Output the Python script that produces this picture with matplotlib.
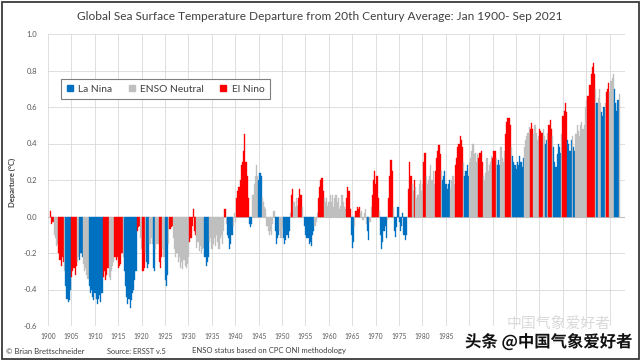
import matplotlib
matplotlib.use("Agg")
import matplotlib.pyplot as plt
import matplotlib.patheffects as pe
from matplotlib.patches import Rectangle, Patch
import numpy as np

# ---------------- data (quarterly global SST departure, deg C) ----------------
first_year = 1900
title = "Global Sea Surface Temperature Departure from 20th Century Average: Jan 1900- Sep 2021"

sst_1900s = [0.03, -0.04, -0.03, -0.10,  -0.12, -0.16, -0.15, -0.20,  -0.24, -0.27, -0.22, -0.25,
             -0.30, -0.38, -0.45, -0.47,  -0.46, -0.40, -0.33, -0.30,  -0.28, -0.32, -0.27, -0.25,
             -0.22, -0.24, -0.20, -0.22,  -0.26, -0.30, -0.28, -0.32,  -0.34, -0.38, -0.42, -0.40,
             -0.44, -0.46, -0.42, -0.45]
sst_1910s = [-0.48, -0.45, -0.43, -0.47,  -0.42, -0.33, -0.30, -0.35,  -0.32, -0.28, -0.33, -0.35,
             -0.30, -0.27, -0.25, -0.22,  -0.24, -0.22, -0.28, -0.27,  -0.26, -0.20, -0.22, -0.30,
             -0.38, -0.44, -0.48, -0.45,  -0.50, -0.46, -0.42, -0.40,  -0.35, -0.30, -0.08, -0.06,
             -0.05, -0.12, -0.18, -0.30]
sst_1920s = [-0.28, -0.20, -0.25, -0.28,  -0.26, -0.15, -0.12, -0.15,  -0.28, -0.30, -0.18, -0.15,
             -0.15, -0.25, -0.28, -0.22,  -0.18, -0.22, -0.35, -0.38,  -0.32, -0.15, -0.07, -0.06,
             -0.05, -0.12, -0.18, -0.22,  -0.20, -0.25, -0.22, -0.28,  -0.25, -0.29, -0.24, -0.27,
             -0.28, -0.26, -0.22, -0.14]
sst_1930s = [-0.12, -0.05, 0.04, -0.08,  -0.10, -0.17, -0.14, -0.19,  -0.16, -0.20, -0.18, -0.17,
             -0.22, -0.27, -0.25, -0.22,  -0.14, -0.12, -0.18, -0.15,  -0.12, -0.16, -0.10, -0.14,
             -0.18, -0.12, -0.10, -0.15,  -0.08, 0.04, -0.04, -0.10,  -0.12, -0.18, -0.15, -0.10,
             -0.05, 0.02, -0.03, 0.10]
sst_1940s = [0.14, 0.16, 0.20, 0.28,  0.30, 0.36, 0.45, 0.30,  0.22, 0.10, -0.04, -0.06,
             -0.04, 0.12, 0.18, 0.22,  0.28, 0.22, 0.20, 0.24,  0.22, 0.10, 0.08, 0.05,
             0.04, -0.05, -0.08, -0.10,  -0.08, -0.10, -0.04, 0.03,  -0.08, -0.15, -0.12, -0.10,
             -0.08, -0.12, -0.06, -0.12]
sst_1950s = [-0.15, -0.13, -0.10, -0.12,  -0.08, 0.02, 0.12, 0.15,  0.08, 0.05, 0.10, 0.06,
             0.10, 0.15, 0.12, 0.05,  0.00, -0.05, -0.10, -0.12,  -0.12, -0.15, -0.14, -0.16,
             -0.10, -0.08, -0.05, -0.03,  0.02, 0.10, 0.16, 0.20,  0.21, 0.14, 0.10, 0.08,
             0.10, 0.06, 0.08, 0.12]
sst_1960s = [0.08, 0.12, 0.05, 0.10,  0.12, 0.08, 0.10, 0.04,  0.06, 0.12, 0.08, 0.05,
             0.04, 0.10, 0.16, 0.14,  0.04, -0.10, -0.17, -0.14,  -0.05, 0.03, 0.05, 0.04,
             0.05, 0.02, 0.03, -0.02,  0.02, 0.04, -0.04, -0.08,  -0.13, -0.03, 0.05, 0.12,
             0.20, 0.25, 0.18, 0.22]
sst_1970s = [0.10, 0.03, -0.10, -0.18,  -0.14, -0.08, -0.05, -0.12,  -0.02, 0.10, 0.22, 0.31,
             0.25, 0.05, -0.08, -0.11,  -0.06, 0.05, -0.03, -0.08,  -0.05, 0.02, -0.10, -0.13,
             -0.10, 0.00, 0.15, 0.30,  0.22, 0.18, 0.14, 0.20,  0.16, 0.10, 0.12, 0.18,
             0.20, 0.14, 0.18, 0.30]
sst_1980s = [0.35, 0.22, 0.18, 0.20,  0.22, 0.28, 0.20, 0.25,  0.18, 0.25, 0.32, 0.36,
             0.39, 0.34, 0.25, 0.20,  0.22, 0.25, 0.18, 0.15,  0.18, 0.20, 0.15, 0.20,
             0.22, 0.18, 0.28, 0.32,  0.38, 0.40, 0.44, 0.42,  0.38, 0.30, 0.22, 0.25,
             0.28, 0.22, 0.30, 0.32]
sst_1990s = [0.36, 0.40, 0.34, 0.35,  0.30, 0.34, 0.32, 0.35,  0.36, 0.30, 0.22, 0.20,
             0.24, 0.32, 0.25, 0.28,  0.30, 0.33, 0.32, 0.36,  0.36, 0.32, 0.28, 0.31,
             0.28, 0.38, 0.32, 0.30,  0.36, 0.45, 0.52, 0.54,  0.54, 0.50, 0.38, 0.33,
             0.30, 0.28, 0.26, 0.30]
sst_2000s = [0.28, 0.33, 0.30, 0.27,  0.32, 0.38, 0.42, 0.44,  0.46, 0.49, 0.48, 0.51,
             0.48, 0.45, 0.50, 0.46,  0.42, 0.44, 0.48, 0.47,  0.46, 0.48, 0.44, 0.40,
             0.42, 0.46, 0.50, 0.53,  0.48, 0.44, 0.38, 0.30,  0.27, 0.34, 0.40, 0.38,
             0.35, 0.45, 0.55, 0.58]
sst_2010s = [0.62, 0.57, 0.42, 0.40,  0.36, 0.42, 0.44, 0.38,  0.36, 0.45, 0.50, 0.47,
             0.44, 0.50, 0.52, 0.48,  0.50, 0.60, 0.64, 0.66,  0.66, 0.72, 0.78, 0.82,
             0.84, 0.78, 0.70, 0.62,  0.65, 0.70, 0.62, 0.57,  0.55, 0.60, 0.62, 0.68,
             0.70, 0.73, 0.68, 0.74]
sst_2020s = [0.76, 0.78, 0.70, 0.62,  0.58, 0.64, 0.67]

# ENSO state per quarter: L = La Nina, N = neutral, E = El Nino
enso_1900s = "EEEN NNNE EEEE NLLL LLEE EEEN NLLL NNNN NLLL LLLL"
enso_1910s = "LLLL LEEE EENN NNNE EEEE EENL LLLL LLLL LLEE ENNE"
enso_1920s = "ENLL LNNN LLNN NEEE NNLL LNEE ENNN NNNN NNNN NNNE"
enso_1930s = "EEEE ENNN NNNN LLLL NNNN NNNN NNNN NENL LLLL NNNE"
enso_1940s = "EEEE EEEE EELL LNNN NNLL LNNN NNNN NNNN LLLL NNNL"
enso_1950s = "LLLL LNEE NNNN EEEN NLLL LLLL LLNN NEEE EENN NNNN"
enso_1960s = "NNNN NNNN NNNN NEEE ELLL NEEE ENNN NNNL LNNE EEEE"
enso_1970s = "ENLL LLLL NEEE ENLL LLLL LLLL LNEE ENNE NNNN NNNE"
enso_1980s = "ENNN NNNN NEEE EENL LLLL LLNN NNEE EEEE ENLL LLNN"
enso_1990s = "NNNN NNEE EENN NNNN NNEE ENLL LNNN NEEE EENL LLLL"
enso_2000s = "LLLL LNNN NNEE ENNN NNEE ENNL LNEE ENLL LLLL LNEE"
enso_2010s = "EELL LLNL LNNN NNNN NNNE EEEE EENL NNNL LLNE EENN"
enso_2020s = "NNLL LLN"

legend_labels = ["La Nina", "ENSO Neutral", "El Nino"]
state_codes = ["L", "N", "E"]
state_colors = ["#0070C0", "#BFBFBF", "#FF0000"]
tick_years = list(range(1900, 2021, 5))
labeled_years = list(range(1900, 1986, 5))   # later labels are hidden by the watermark
y_ticks = [-0.6, -0.4, -0.2, 0.0, 0.2, 0.4, 0.6, 0.8, 1.0]

# ---------------- assemble ----------------
sst = (sst_1900s + sst_1910s + sst_1920s + sst_1930s + sst_1940s + sst_1950s + sst_1960s
       + sst_1970s + sst_1980s + sst_1990s + sst_2000s + sst_2010s + sst_2020s)
enso = "".join([enso_1900s, enso_1910s, enso_1920s, enso_1930s, enso_1940s, enso_1950s,
                enso_1960s, enso_1970s, enso_1980s, enso_1990s, enso_2000s, enso_2010s,
                enso_2020s]).replace(" ", "")
assert len(sst) == len(enso)
cmap = dict(zip(state_codes, state_colors))
t = first_year + 0.25 * np.arange(len(sst))
cols = [cmap[c] for c in enso]

FONT = "Lato"
W, H = 640, 360
fig = plt.figure(figsize=(6.4, 3.6), dpi=100)
fig.patch.set_facecolor("white")
ax = fig.add_axes([48 / W, 1 - 326 / H, 577 / W, (326 - 34) / H])

px_per_year = 4.68
x_left = first_year - 2 / px_per_year
ax.set_xlim(x_left, x_left + 577 / px_per_year)
ax.set_ylim(-0.6, 1.0)

ax.bar(t, sst, width=0.25, align="edge", color=cols, edgecolor=cols, linewidth=0.25, zorder=3)

ax.set_yticks(y_ticks)
ax.set_yticklabels([f"{v:.1f}" for v in y_ticks])
ax.set_xticks([y - 0.43 for y in tick_years])
ax.set_xticklabels([str(y) if y in labeled_years else "" for y in tick_years])
ax.tick_params(axis="both", length=0, colors="#595959")
ax.tick_params(axis="y", pad=8, labelsize=5.5)
ax.tick_params(axis="x", pad=5, labelsize=4.8)
for lab in ax.get_xticklabels() + ax.get_yticklabels():
    lab.set_fontfamily(FONT)
ax.grid(True, color="#D9D9D9", linewidth=0.6, zorder=0)
ax.axhline(0, color="#BFBFBF", linewidth=0.8, zorder=2)
for s in ax.spines.values():
    s.set_visible(False)

ylab = fig.text(12 / W, 1 - 182 / H, "Departure (°C)", rotation=90, ha="center", va="center",
                fontsize=5.5, fontweight="bold", color="#404040", family=FONT)

handles = [Patch(facecolor=c, edgecolor=c) for c in state_colors]
leg = ax.legend(handles, legend_labels, loc="upper left", bbox_to_anchor=(56 / W, 1 - 74 / H),
                bbox_transform=fig.transFigure, ncol=3, frameon=True, fancybox=False,
                edgecolor="#7F7F7F", framealpha=1, handlelength=0.6, handleheight=0.6,
                handletextpad=0.5, columnspacing=1.6, borderpad=0.55,
                prop={"family": FONT, "size": 7.4})
leg.get_frame().set_linewidth(0.8)
for tx in leg.get_texts():
    tx.set_color("#404040")

ttl = fig.text(0.5, 1 - 17 / H, title, ha="center", va="center", color="#404040",
               fontsize=9, family=FONT)
f1 = fig.text(6 / W, 1 - 351 / H, "© Brian Brettschneider", ha="left", va="center",
              color="#404040", fontsize=5, family=FONT)
f2 = fig.text(107 / W, 1 - 351 / H, "Source: ERSST v.5", ha="left", va="center",
              color="#404040", fontsize=5, family=FONT)
f3 = fig.text(192 / W, 1 - 351 / H, "ENSO status based on CPC ONI methodology", ha="left",
              va="center", color="#404040", fontsize=5, family=FONT)

cjk = ["Noto Sans CJK SC", "DejaVu Sans"]
wm2 = fig.text(507 / W, 1 - 324 / H, "中国气象爱好者", ha="left", va="center", color="#DADADA",
               fontsize=9, family=cjk, zorder=1)
wm = fig.text(465 / W, 1 - 342 / H, "头条 @中国气象爱好者", ha="left", va="center",
              color="#111111", fontsize=12, family=cjk, fontweight="bold", zorder=2,
              bbox=dict(facecolor="white", edgecolor="none", pad=0.5))
wm.set_path_effects([pe.withStroke(linewidth=2, foreground="white")])

fig.add_artist(Rectangle((1.5 / W, 1.5 / H), 1 - 3 / W, 1 - 3 / H, transform=fig.transFigure,
                         fill=False, edgecolor="#3A3A3A", linewidth=1.3))

fig.canvas.draw()
r = fig.canvas.get_renderer()
def fit(txt, width_px):
    bb = txt.get_window_extent(r)
    txt.set_fontsize(txt.get_fontsize() * width_px / bb.width)

fit(ttl, 485)
fit(f1, 80)
fit(f2, 60)
fit(f3, 154)
fit(wm, 167)
fit(wm2, 104)

fig.savefig("out.png", dpi=100, facecolor="white")
